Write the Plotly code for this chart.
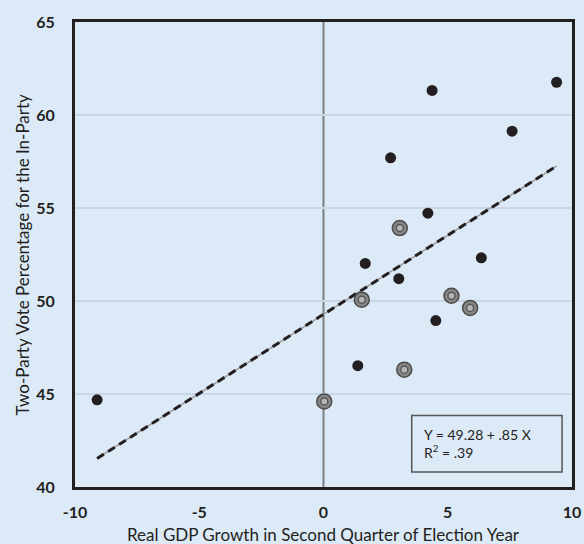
import plotly.graph_objects as go

# Data
black_x = [-9.11, 4.37, 9.38, 7.59, 2.70, 4.20, 1.68, 6.35, 3.03, 4.52, 1.38]
black_y = [44.69, 61.32, 61.76, 59.13, 57.70, 54.72, 52.02, 52.32, 51.20, 48.95, 46.52]
target_x = [3.07, 1.54, 5.15, 5.90, 3.25, 0.03]
target_y = [53.92, 50.07, 50.28, 49.63, 46.31, 44.60]
intercept = 49.28
slope = 0.85
r2_text = ".39"
x_ticks = [-10, -5, 0, 5, 10]
y_ticks = [40, 45, 50, 55, 60, 65]

BG = "#dce9f6"
INK = "#231f20"
FONT = "Lato"

all_x = black_x + target_x
xmin, xmax = min(all_x), max(all_x)
line_x = [xmin, xmax]
line_y = [intercept + slope * v for v in line_x]

fig = go.Figure()

# reference lines x=0 and y=50
fig.add_shape(type="line", x0=0, x1=0, y0=40, y1=65, xref="x", yref="y",
              line=dict(color="#7b7f84", width=2), layer="below")
fig.add_shape(type="line", x0=-10, x1=10, y0=50, y1=50, xref="x", yref="y",
              line=dict(color="#7b7f84", width=2), layer="below")

# regression line: gray solid under black dashes
fig.add_trace(go.Scatter(x=line_x, y=line_y, mode="lines",
                         line=dict(color="#9a9a9a", width=1.5),
                         hoverinfo="skip", showlegend=False))
fig.add_trace(go.Scatter(x=line_x, y=line_y, mode="lines",
                         line=dict(color=INK, width=3, dash="8px,5px"),
                         hoverinfo="skip", showlegend=False))

fig.add_trace(go.Scatter(x=black_x, y=black_y, mode="markers",
                         marker=dict(size=11, color=INK, line=dict(width=0)),
                         showlegend=False))
fig.add_trace(go.Scatter(x=target_x, y=target_y, mode="markers",
                         marker=dict(size=15, color="#858585",
                                     line=dict(color="#4d4d4d", width=1.5)),
                         showlegend=False))
fig.add_trace(go.Scatter(x=target_x, y=target_y, mode="markers",
                         marker=dict(size=7, color="#b5b5b5",
                                     line=dict(color="#505050", width=1.3)),
                         showlegend=False))

# equation box
fig.add_shape(type="rect", x0=3.55, x1=9.6, y0=40.8, y1=43.85, xref="x", yref="y",
              line=dict(color="#555555", width=1.5), fillcolor=BG)
fig.add_annotation(x=3.95, y=42.35, xref="x", yref="y", xanchor="left", yanchor="middle",
                   align="left", showarrow=False,
                   text="Y = 49.28 + .85 X<br>R<sup>2</sup> = " + r2_text,
                   font=dict(family=FONT, size=14, color=INK))

# axis titles
fig.add_annotation(x=0.5, y=0, xref="paper", yref="paper", xanchor="center",
                   yanchor="middle", yshift=-47, showarrow=False,
                   text="Real GDP Growth in Second Quarter of Election Year",
                   font=dict(family=FONT, size=17, color=INK))
fig.add_annotation(x=0, y=0.5, xref="paper", yref="paper", xanchor="center",
                   yanchor="middle", xshift=-53, showarrow=False, textangle=-90,
                   text="Two-Party Vote Percentage for the In-Party",
                   font=dict(family=FONT, size=17, color=INK))

fig.update_xaxes(range=[-10, 10], tickvals=x_ticks, ticktext=[str(t) for t in x_ticks],
                 showgrid=False, zeroline=False, showline=True, mirror=True,
                 linecolor=INK, linewidth=3, ticks="", ticklabelstandoff=9,
                 automargin=False,
                 tickfont=dict(family=FONT, size=16, color=INK, weight="bold"))
fig.update_yaxes(range=[40, 65], tickvals=y_ticks, ticktext=[str(t) for t in y_ticks],
                 showgrid=True, gridcolor="#c8d6e6", gridwidth=1.5, zeroline=False,
                 showline=True, mirror=True, linecolor=INK, linewidth=3, ticks="",
                 ticklabelstandoff=14, automargin=False,
                 tickfont=dict(family=FONT, size=16, color=INK, weight="bold"))

fig.update_layout(width=584, height=544, paper_bgcolor=BG, plot_bgcolor=BG,
                  margin=dict(l=75, r=12, t=22, b=57), showlegend=False)

fig.write_html("out.html", config={"displayModeBar": False},
               post_script="document.body.style.margin='0';"
                           "document.body.style.overflow='hidden';"
                           "document.body.style.background='" + BG + "';")
